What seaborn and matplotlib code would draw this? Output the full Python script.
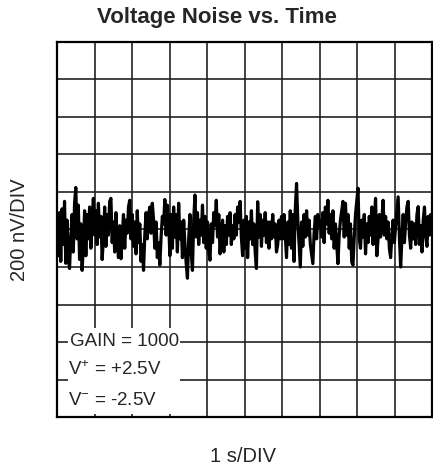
import numpy as np
import matplotlib
matplotlib.use("Agg")
import matplotlib.pyplot as plt
import seaborn as sns
from matplotlib.patches import Rectangle

# noise trace, in nV, one list per 1 s division
div0 = [40, -140, 90, -170, 110, -80, 150, -180, 50, -150, -208, -40, 80, -120, 140, 224, -50, 130, -160, 30, -218, -90, 100, -140, 80, -50, 120, -100, 50, 166]
div1 = [-30, 100, -80, 140, -40, 70, -160, -50, 120, -90, 80, -30, 150, 166, -70, 40, -120, 90, -50, -150, 20, -156, -40, 80, -100, 50, -20, 120, 156, -50]
div2 = [80, -90, 40, -130, 100, -70, 30, -170, -80, -218, -30, 90, -50, 80, 120, -20, 140, 50, -100, 40, -150, -70, -190, -40, 70, 30, 160, -30, 130, 40]
div3 = [-140, 80, -100, 120, -40, 80, -120, 140, -50, 40, -150, 50, -80, -180, -260, -50, 80, -120, -218, 50, 184, -40, 90, -80, 50, -30, 130, -70, 70, -100]
div4 = [40, -120, -164, 30, -70, 90, 20, 156, -40, 80, -130, -30, 50, -120, 20, -80, 70, -30, 90, -80, 20, -50, 80, -30, 120, 40, 150, -40, -140, 50]
div5 = [-100, 70, -150, 40, -50, 100, -80, 30, -120, -208, 148, -40, 80, -90, 50, -30, 90, -70, 40, -100, 40, -50, 80, -40, 30, -120, -80, 50, -50, 70]
div6 = [-50, 80, -30, -150, 40, -80, 100, -100, 80, -170, 110, 246, 50, -80, -200, 40, -90, 80, -40, 100, -30, 50, -80, -130, -182, -20, 70, -50, 80, 20]
div7 = [50, -40, 90, -70, 120, 30, 156, -20, 80, -50, 100, -100, 30, -80, -182, -30, 50, 100, 150, -40, 140, -30, 80, -100, 30, -174, -190, -40, 80, 150]
div8 = [220, -50, -100, 50, -40, 80, -130, 30, -70, 70, -30, 120, -80, 50, 166, -140, -50, 80, -40, 50, 156, -30, 70, -50, 40, -100, -150, -30, 50, -70]
div9 = [20, 100, 174, -40, -200, -50, 80, -70, 40, 120, 150, -30, -100, 40, -50, 30, -80, 80, 122, -80, 20, -120, 50, 120, -40, -90, 70, -30, 80, 20]

noise_nv = div0 + div1 + div2 + div3 + div4 + div5 + div6 + div7 + div8 + div9
time_s = np.linspace(0, 10, len(noise_nv))

notes = ["GAIN = 1000", "V$^{+}$ = +2.5V", "V$^{-}$ = -2.5V"]

sns.set_theme(style="white")
plt.rcParams['font.family'] = ['Liberation Sans', 'DejaVu Sans']
plt.rcParams['mathtext.fontset'] = 'custom'
plt.rcParams['mathtext.rm'] = 'Liberation Sans'
plt.rcParams['mathtext.it'] = 'Liberation Sans'
plt.rcParams['mathtext.bf'] = 'Liberation Sans:bold'

fig = plt.figure(figsize=(4.33, 4.68), dpi=100)
ax = fig.add_axes([57 / 433, 51 / 468, 375 / 433, 375 / 468])

sns.lineplot(x=time_s, y=noise_nv, ax=ax, color='black', linewidth=2.3,
             estimator=None, errorbar=None, zorder=3)

# 10 x 10 scope graticule
ax.set_xlim(0, 10)
ax.set_ylim(-1000, 1000)
ax.set_xticks(np.arange(0, 11, 1))
ax.set_yticks(np.arange(-1000, 1001, 200))
ax.set_xticklabels([])
ax.set_yticklabels([])
ax.tick_params(length=0)
ax.set_axisbelow(True)
ax.grid(True, color='#222222', linewidth=1.2)
for s in ax.spines.values():
    s.set_color('black')
    s.set_linewidth(1.6)

# white box behind the conditions text
ax.add_patch(Rectangle((0.029, 0.008), 0.30, 0.23, transform=ax.transAxes,
                       facecolor='white', edgecolor='none', zorder=1))
ypos = [0.200, 0.125, 0.045]
xpos = [0.035, 0.030, 0.030]
for txt, xx, yy in zip(notes, xpos, ypos):
    ax.text(xx, yy, txt, transform=ax.transAxes, fontsize=13.5,
            ha='left', va='center', zorder=4)

fig.text(0.5, 1 - 18 / 468, 'Voltage Noise vs. Time', ha='center', va='center',
         fontsize=16, fontweight='bold')
fig.text(243 / 433, 1 - 456 / 468, '1 s/DIV', ha='center', va='center', fontsize=14.5)
fig.text(20 / 433, 1 - 229.5 / 468, '200 nV/DIV', ha='center', va='center',
         rotation=90, fontsize=14.5)

fig.savefig('out.png', dpi=100)
